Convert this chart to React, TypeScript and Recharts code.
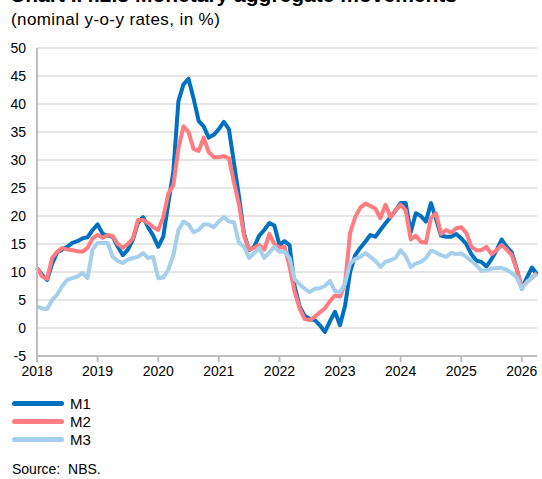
import { CartesianGrid, Line, LineChart, XAxis, YAxis } from "recharts";

// Monthly y-o-y rates, Jan 2018 onwards (index 0 = Jan 2018).
const m1 = [
  10.7, 9.5, 8.6, 11.5, 13.5, 14, 14.5, 15.2, 15.5, 16, 16.2, 17.5,
  18.5, 16.8, 16.5, 16.3, 14.5, 13, 14, 15.8, 18.8, 19.8, 18, 16.5,
  14.5, 16.3, 22.3, 28, 40.5, 43.5, 44.5, 41, 37, 36, 34, 34.5,
  35.5, 36.8, 35.5, 29.5, 23.4, 16.8, 13.9, 14.5, 16.5, 17.5, 18.75, 18.3,
  14.8, 15.5, 14.8, 7.5, 3.8, 2.2, 1.6, 1.4, 0.5, -0.7, 1.2, 2.9,
  0.5, 4, 10, 13, 14.3, 15.4, 16.6, 16.3, 17.5, 18.7, 19.8, 21,
  22.3, 22.3, 17.1, 20.5, 20, 19, 22.3, 19.5, 16.5, 16.3, 16.3, 16.8,
  16, 15, 13.2, 12, 11.8, 11, 12.3, 13.9, 15.8, 14.5, 13.5, 10.5,
  7, 9, 10.8, 9.6,
];
const m2 = [
  10.7, 9.2, 8.8, 12.5, 13.6, 14.3, 14, 13.9, 13.7, 13.6, 14.3, 16,
  16.6, 16.1, 16.6, 16.4, 15, 14.3, 15, 16, 19.3, 19.3, 18.75, 18,
  17.5, 19.8, 24, 25.5, 32, 36, 35, 32, 31.6, 34, 31.4, 30.5,
  30.5, 30.7, 30.3, 26, 22, 16.5, 14, 14.3, 14.8, 14, 16.8, 15,
  14.3, 14.5, 11, 6.5, 3.5, 1.6, 1.4, 2, 2.8, 3.5, 4.8, 5.8,
  5.6, 8, 17, 19.8, 21.5, 22.2, 21.8, 21.3, 19.6, 22, 19.8, 21,
  22, 21, 15.8, 16.5, 15.4, 15.2, 19.6, 20.5, 16.8, 17.5, 17, 17.8,
  18, 17, 14.5, 13.9, 13.9, 14.5, 13.2, 13.9, 14.8, 14, 13, 10.4,
  7.3, 8.2, 9, 9.8,
];
const m3 = [
  3.8, 3.5, 3.4, 5, 6, 7.5, 8.6, 8.9, 9.2, 9.8, 8.9, 14,
  15.2, 15.2, 15.2, 12.7, 12, 11.6, 12.2, 12.5, 12.7, 13.4, 12.5, 12.7,
  8.9, 9, 10.4, 13, 17.5, 19, 18.5, 17.1, 17.5, 18.5, 18.5, 18,
  19, 19.8, 19, 18.9, 15.2, 14.5, 12.5, 13.4, 14.3, 12.5, 13.5, 14.5,
  13.6, 13.6, 12.5, 8.8, 7.8, 7, 6.4, 7, 7.1, 7.5, 8.4, 6.6,
  6.4, 8, 11.5, 12.3, 12.7, 13.4, 12.7, 12, 10.9, 11.8, 12.1, 12.5,
  13.9, 12.8, 10.9, 11.5, 11.8, 12.5, 13.8, 13.5, 13, 12.7, 13.4, 13.2,
  13.3, 12.7, 12, 11.2, 10.2, 10.3, 10.6, 10.7, 10.7, 10.4, 9.8, 9,
  7, 8.2, 9, 9.6,
];

const yearTicks = [0, 12, 24, 36, 48, 60, 72, 84, 96];
const yTicks = [-5, 0, 5, 10, 15, 20, 25, 30, 35, 40, 45, 50];

const series = [
  { key: "m1", name: "M1", color: "#0070C0" },
  { key: "m2", name: "M2", color: "#FF7C80" },
  { key: "m3", name: "M3", color: "#A5CFEA" },
];

const data = m1.map((v, i) => ({ i, m1: v, m2: m2[i], m3: m3[i] }));

const FONT = "'Liberation Sans', Arial, sans-serif";
const AXIS = "#BFBFBF";
const GRID = "#DCDCDC";

export default function App() {
  return (
    <div
      style={{
        position: "absolute",
        left: 0,
        top: 0,
        width: 542,
        height: 479,
        overflow: "hidden",
        background: "#fff",
        fontFamily: FONT,
        color: "#000",
      }}
    >
      {/* title runs off the top edge, as in the source image */}
      <div
        style={{
          position: "absolute",
          left: 10,
          top: -17,
          fontSize: 21,
          fontWeight: "bold",
          whiteSpace: "nowrap",
        }}
      >
        Chart I.4.2.3 Monetary aggregate movements
      </div>
      <div
        style={{
          position: "absolute",
          left: 11,
          top: 10,
          fontSize: 17,
          letterSpacing: 0.4,
          whiteSpace: "nowrap",
        }}
      >
        (nominal y-o-y rates, in %)
      </div>
      <div style={{ position: "absolute", left: 0, top: 0 }}>
        <LineChart
          width={542}
          height={390}
          data={data}
          margin={{ top: 48, right: 5, bottom: 0, left: 0 }}
        >
          <CartesianGrid vertical={false} stroke={GRID} strokeWidth={1.5} />
          <XAxis
            dataKey="i"
            type="number"
            domain={[0, 99]}
            ticks={yearTicks}
            tickFormatter={(v) => String(2018 + v / 12)}
            stroke={AXIS}
            strokeWidth={2}
            tickSize={6}
            tickMargin={4}
            height={34}
            tick={{ fill: "#000", fontSize: 14, fontFamily: FONT }}
          />
          <YAxis
            domain={[-5, 50]}
            ticks={yTicks}
            interval={0}
            width={37}
            stroke={AXIS}
            strokeWidth={2}
            tickLine={false}
            tickSize={0}
            tickMargin={11}
            tick={{ fill: "#000", fontSize: 14, fontFamily: FONT }}
          />
          <YAxis
            yAxisId="r"
            orientation="right"
            width={0}
            stroke={AXIS}
            strokeWidth={2}
            tick={false}
            tickLine={false}
          />
          {series.map((s) => (
            <Line
              key={s.key}
              dataKey={s.key}
              name={s.name}
              stroke={s.color}
              strokeWidth={4}
              strokeLinejoin="round"
              dot={false}
              type="linear"
              isAnimationActive={false}
            />
          ))}
        </LineChart>
      </div>
      <div style={{ position: "absolute", left: 12, top: 394 }}>
        {series.map((s) => (
          <div
            key={s.key}
            style={{ display: "flex", alignItems: "center", height: 18, fontSize: 15 }}
          >
            <div
              style={{
                width: 52,
                height: 5,
                borderRadius: 3,
                background: s.color,
                marginRight: 6,
              }}
            />
            {s.name}
          </div>
        ))}
      </div>
      <div style={{ position: "absolute", left: 12, top: 461, fontSize: 14, whiteSpace: "pre" }}>
        Source:  NBS.
      </div>
    </div>
  );
}
